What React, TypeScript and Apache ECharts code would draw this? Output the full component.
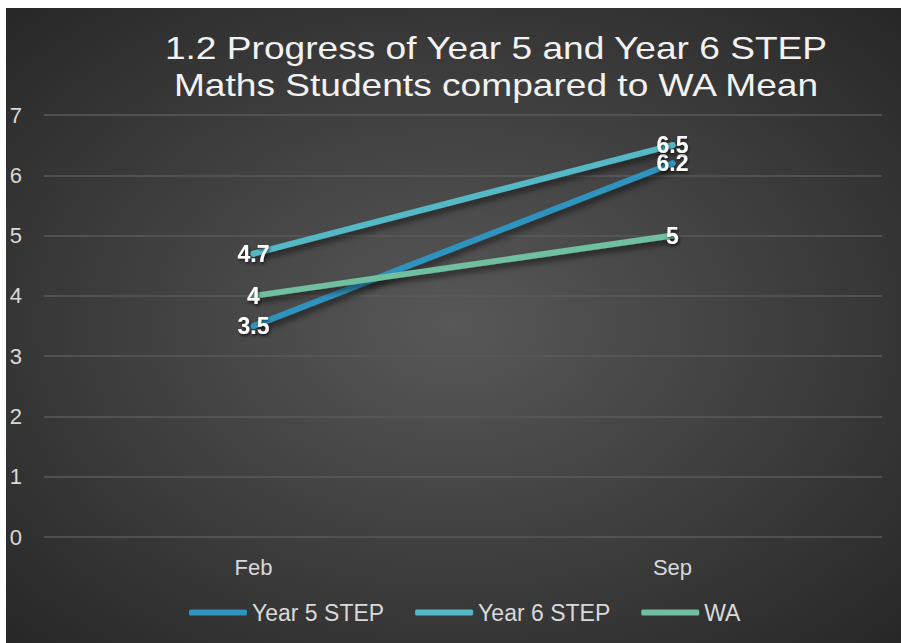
import React, { useEffect, useRef } from "react";
import * as echarts from "echarts";

const categories = ["Feb", "Sep"];
const year5 = [3.5, 6.2];
const year6 = [4.7, 6.5];
const wa = [4, 5];
const seriesNames = ["Year 5 STEP", "Year 6 STEP", "WA"];
const seriesColors = ["#2f94bf", "#55b9c5", "#70bf9f"];
const titleLines = [
  "1.2 Progress of Year 5 and Year 6 STEP",
  "Maths Students compared to WA Mean",
];

export default function App() {
  const ref = useRef<HTMLDivElement>(null);
  useEffect(() => {
    if (!ref.current) return;
    const chart = echarts.init(ref.current, null, { renderer: "svg" });
    const font = "'Liberation Sans', Arial, sans-serif";
    const mk = (name: string, data: number[], color: string) => ({
      name,
      type: "line",
      data,
      symbol: "circle",
      symbolSize: 6,
      showSymbol: true,
      lineStyle: {
        color,
        width: 6,
        cap: "round",
        shadowColor: "rgba(0,0,0,0.55)",
        shadowBlur: 6,
        shadowOffsetX: 3,
        shadowOffsetY: 4,
      },
      itemStyle: { color },
      label: {
        show: true,
        position: "inside",
        color: "#ffffff",
        fontSize: 23,
        fontWeight: "bold",
        fontFamily: font,
        textShadowColor: "rgba(0,0,0,0.6)",
        textShadowBlur: 3,
        textShadowOffsetX: 1,
        textShadowOffsetY: 2,
      },
      emphasis: { disabled: true },
    });
    chart.setOption({
      animation: false,
      backgroundColor: {
        type: "radial",
        x: 0.5,
        y: 0.5,
        r: 0.72,
        colorStops: [
          { offset: 0, color: "#585858" },
          { offset: 1, color: "#262626" },
        ],
      },
      graphic: titleLines.map((t, i) => ({
        type: "text",
        x: 490,
        y: 40 + i * 37,
        scaleX: 1.16,
        style: {
          text: t,
          fill: "#f2f2f2",
          font: `32px ${font}`,
          textAlign: "center",
          textVerticalAlign: "middle",
          shadowColor: "rgba(0,0,0,0.6)",
          shadowBlur: 3,
          shadowOffsetX: 1,
          shadowOffsetY: 2,
        },
      })),
      grid: { left: 38, right: 19, top: 107, bottom: 106 },
      legend: {
        bottom: 14,
        left: 178,
        data: seriesNames,
        icon: "roundRect",
        itemWidth: 58,
        itemHeight: 6,
        itemGap: 31,
        textStyle: { color: "#d9d9d9", fontSize: 23, fontFamily: font },
      },
      xAxis: {
        type: "category",
        data: categories,
        boundaryGap: true,
        axisLine: { show: false },
        axisTick: { show: false },
        axisLabel: { color: "#d9d9d9", fontSize: 22, fontFamily: font, margin: 19 },
      },
      yAxis: {
        type: "value",
        min: 0,
        max: 7,
        interval: 1,
        axisLine: { show: false },
        axisTick: { show: false },
        axisLabel: { color: "#d9d9d9", fontSize: 22, fontFamily: font, margin: 22 },
        splitLine: { lineStyle: { color: "#5a5a5a", width: 1.5 } },
      },
      series: [
        mk(seriesNames[0], year5, seriesColors[0]),
        mk(seriesNames[1], year6, seriesColors[1]),
        mk(seriesNames[2], wa, seriesColors[2]),
      ],
    });
    return () => chart.dispose();
  }, []);
  return (
    <div
      ref={ref}
      style={{ position: "absolute", left: 6, top: 8, width: 895, height: 635 }}
    />
  );
}
